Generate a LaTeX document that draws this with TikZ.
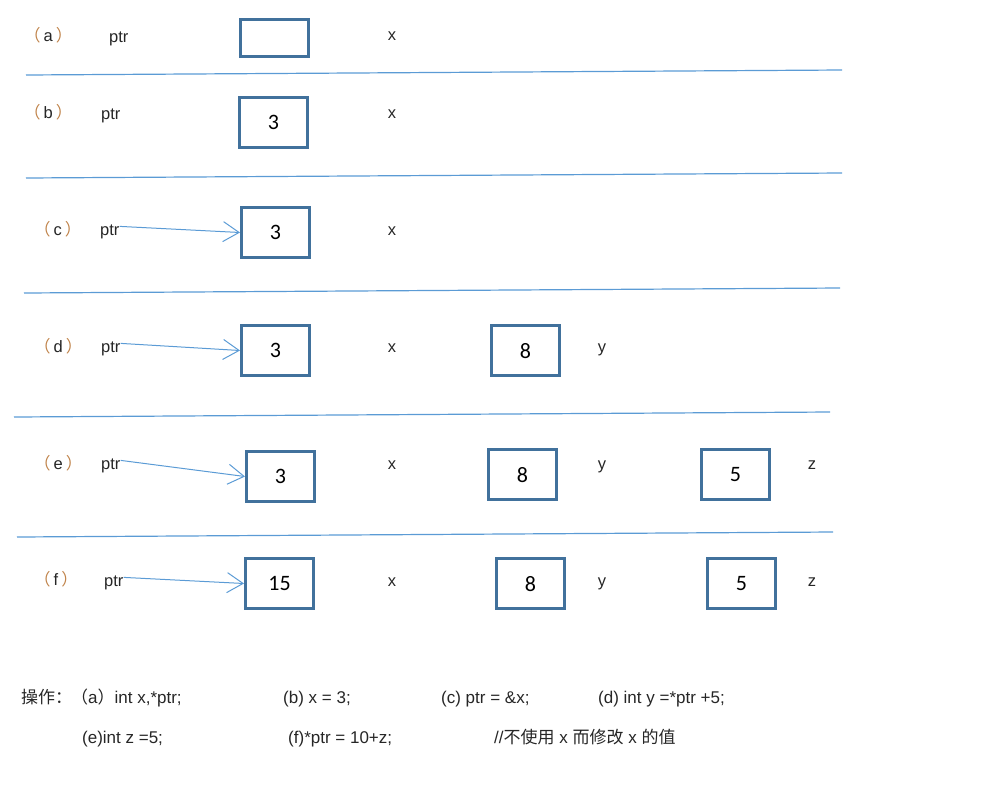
\documentclass[tikz,border=0pt]{standalone}
\usepackage{fontspec}
\setmainfont{Liberation Sans}
\newfontfamily\cjk{Noto Sans CJK SC}
\newfontfamily\numfont{Carlito}
\usepackage{xcolor}
\usetikzlibrary{arrows.meta}

\definecolor{boxblue}{HTML}{41719C}
\definecolor{lineblue}{HTML}{5B9BD5}
\definecolor{tagcol}{HTML}{C0834A}
\definecolor{txtcol}{HTML}{262626}

\newcommand{\rowtag}[1]{{\cjk\color{tagcol}（}\hspace{3pt}#1\hspace{3pt}{\cjk\color{tagcol}）}}

\begin{document}
\begin{tikzpicture}[x=1pt,y=-1pt,
    every node/.style={font=\fontsize{16.5}{20}\selectfont, text=txtcol, inner sep=0pt},
    cell/.style={draw=boxblue, line width=3pt, minimum width=68pt, minimum height=50pt, font=\fontsize{22}{26}\numfont, text=black, text depth=-3pt},
    lbl/.style={anchor=base},
    rowrule/.style={draw=lineblue, line width=1.2pt},
    ptrarrow/.style={draw=lineblue, line width=1pt, -{Straight Barb[length=16pt,width=20pt]}}]
    \useasboundingbox (0,0) rectangle (987,788);

    % (a)
    \node[anchor=base west] (taga) at (24,41) {\rowtag{a}};
    \node[anchor=base west] (ptra) at (109,42) {ptr};
    \node[cell, minimum height=37pt] (boxa) at (274.5,38) {};
    \node[lbl] (xa) at (392,40) {x};
    \draw[rowrule] (26,75) -- (842,70);

    % (b)
    \node[anchor=base west] (tagb) at (24,118) {\rowtag{b}};
    \node[anchor=base west] (ptrb) at (101,119) {ptr};
    \node[cell] (boxb) at (273.5,122.5) {3};
    \node[lbl] (xb) at (392,118) {x};
    \draw[rowrule] (26,178) -- (842,173);

    % (c)
    \node[anchor=base west] (tagc) at (34,235) {\rowtag{c}};
    \node[anchor=base west] (ptrc) at (100,235) {ptr};
    \node[cell] (boxc) at (275.5,232.5) {3};
    \node[lbl] (xc) at (392,235) {x};
    \draw[ptrarrow] ([yshift=5pt]ptrc.east) -- (boxc.west);
    \draw[rowrule] (24,293) -- (840,288);

    % (d)
    \node[anchor=base west] (tagd) at (34,352) {\rowtag{d}};
    \node[anchor=base west] (ptrd) at (101,352) {ptr};
    \node[cell] (boxd) at (275.5,350.5) {3};
    \node[lbl] (xd) at (392,352) {x};
    \node[cell] (boxdy) at (525.5,350.5) {8};
    \node[lbl] (yd) at (602,352) {y};
    \draw[ptrarrow] ([yshift=5pt]ptrd.east) -- (boxd.west);
    \draw[rowrule] (14,417) -- (830,412);

    % (e)
    \node[anchor=base west] (tage) at (34,469) {\rowtag{e}};
    \node[anchor=base west] (ptre) at (101,469) {ptr};
    \node[cell] (boxe) at (280.5,476.5) {3};
    \node[lbl] (xe) at (392,469) {x};
    \node[cell] (boxey) at (522.5,474.5) {8};
    \node[lbl] (ye) at (602,469) {y};
    \node[cell] (boxez) at (735.5,474.5) {5};
    \node[lbl] (ze) at (812,469) {z};
    \draw[ptrarrow] ([yshift=5pt]ptre.east) -- (boxe.west);
    \draw[rowrule] (17,537) -- (833,532);

    % (f)
    \node[anchor=base west] (tagf) at (34,585) {\rowtag{f}};
    \node[anchor=base west] (ptrf) at (104,586) {ptr};
    \node[cell] (boxf) at (279.5,583.5) {15};
    \node[lbl] (xf) at (392,586) {x};
    \node[cell] (boxfy) at (530.5,583.5) {8};
    \node[lbl] (yf) at (602,586) {y};
    \node[cell] (boxfz) at (741.5,583.5) {5};
    \node[lbl] (zf) at (812,586) {z};
    \draw[ptrarrow] ([yshift=5pt]ptrf.east) -- (boxf.west);

    % operations
    \begin{scope}[every node/.append style={font=\fontsize{17}{20}\selectfont}]
    \node[anchor=base west] (op) at (21,703) {{\cjk 操作：}};
    \node[anchor=base west] (opa) at (71,703) {{\cjk （}a{\cjk ）}int x,*ptr;};
    \node[anchor=base west] (opb) at (283,703) {(b) x = 3;};
    \node[anchor=base west] (opc) at (441,703) {(c) ptr = \&x;};
    \node[anchor=base west] (opd) at (598,703) {(d) int y =*ptr +5;};
    \node[anchor=base west] (ope) at (82,743) {(e)int z =5;};
    \node[anchor=base west] (opf) at (288,743) {(f)*ptr = 10+z;};
    \node[anchor=base west] (note) at (494,743) {//{\cjk 不使用} x {\cjk 而修改} x {\cjk 的值}};
    \end{scope}
\end{tikzpicture}
\end{document}
